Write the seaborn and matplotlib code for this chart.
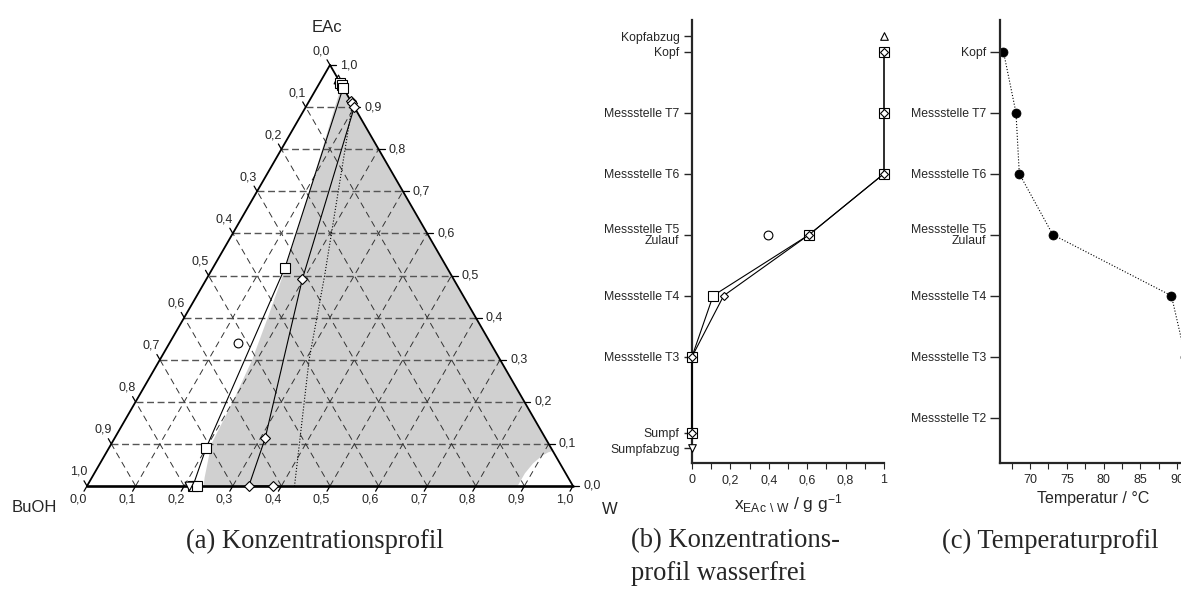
import numpy as np
import pandas as pd
import matplotlib
matplotlib.use("Agg")
import matplotlib.pyplot as plt
import seaborn as sns

# ---------------- data ----------------
# (a) ternary compositions, mass fractions of W and EAc (BuOH = rest)
sq_w   = [0.042, 0.048, 0.054, 0.148, 0.200, 0.218, 0.226]
sq_eac = [0.958, 0.952, 0.946, 0.519, 0.090, 0.000, 0.000]
di_w   = [0.085, 0.090, 0.100, 0.1975, 0.310, 0.333, 0.383]
di_eac = [0.915, 0.910, 0.900, 0.491, 0.113, 0.000, 0.000]
feed_w, feed_eac = [0.141], [0.339]
head_w, head_eac = [0.034], [0.966]
bott_w, bott_eac = [0.210], [0.000]
dot_w   = [0.095, 0.239, 0.307, 0.427]
dot_eac = [0.900, 0.500, 0.300, 0.000]
gap_w   = [0.055, 0.050, 0.060, 0.084, 0.107, 0.131, 0.153, 0.172, 0.190,
           0.200, 0.206, 0.232, 0.240, 0.886, 0.886, 0.891, 0.900, 0.909, 0.917]
gap_eac = [0.945, 0.944, 0.900, 0.800, 0.700, 0.600, 0.500, 0.400, 0.300,
           0.200, 0.100, 0.020, 0.000, 0.000, 0.030, 0.054, 0.0713, 0.080, 0.083]
tern_ticks = [0.0, 0.1, 0.2, 0.3, 0.4, 0.5, 0.6, 0.7, 0.8, 0.9, 1.0]

# (b) water-free profile
pos_b = [7, 6, 5, 4, 3, 2, 0.75]
sq_b  = [1.0, 1.0, 1.0, 0.61, 0.11, 0.0, 0.0]
di_b  = [1.0, 1.0, 1.0, 0.61, 0.165, 0.0, 0.0]
feed_b, feed_pos = [0.395], [4]
head_b, head_pos = [1.0], [7.25]
bott_b, bott_pos = [0.0], [0.5]
ylab_pos_b = [7.25, 7, 6, 5, 4, 3, 2, 0.75, 0.5]
ylab_b = ["Kopfabzug", "Kopf", "Messstelle T7", "Messstelle T6",
          "Messstelle T5\nZulauf", "Messstelle T4", "Messstelle T3",
          "Sumpf", "Sumpfabzug"]
xt_b = [0.0, 0.1, 0.2, 0.3, 0.4, 0.5, 0.6, 0.7, 0.8, 0.9, 1.0]
xtl_b = ["0", "", "0,2", "", "0,4", "", "0,6", "", "0,8", "", "1"]

# (c) temperature profile
pos_c  = [7, 6, 5, 4, 3, 2]
temp_c = [66.4, 68.1, 68.55, 73.1, 89.2, 91.1]
ylab_pos_c = [7, 6, 5, 4, 3, 2, 1]
ylab_c = ["Kopf", "Messstelle T7", "Messstelle T6", "Messstelle T5\nZulauf",
          "Messstelle T4", "Messstelle T3", "Messstelle T2"]
xt_c = [67.5, 70, 72.5, 75, 77.5, 80, 82.5, 85, 87.5, 90]
xtl_c = ["", "70", "", "75", "", "80", "", "85", "", "90"]

# ---------------- style ----------------
sns.set_style("ticks")
plt.rcParams["font.family"] = ["Liberation Sans", "DejaVu Sans"]
plt.rcParams["mathtext.fontset"] = "custom"
plt.rcParams["mathtext.rm"] = "Liberation Sans"
plt.rcParams["mathtext.default"] = "regular"

W, H = 1181, 590
fig = plt.figure(figsize=(W / 100, H / 100), dpi=100)

# ---------------- (a) ternary ----------------
ax = fig.add_axes([87 / W, (H - 486) / H, 486 / W, 421 / H])
ax.set_xlim(0, 1)
ax.set_ylim(0, 1)
ax.axis("off")
PX, PY = 1 / 486, 1 / 421


def tern(w, e):
    w = np.asarray(w, float)
    e = np.asarray(e, float)
    return w + e / 2, e


def lab(v):
    return f"{v:.1f}".replace(".", ",")


gx, gy = tern(gap_w, gap_eac)
ax.fill(gx, gy, color="#d0d0d0", lw=0, zorder=0)

for v in tern_ticks[1:-1]:
    # constant EAc (horizontal)
    x0, y0 = tern(0, v)
    x1, y1 = tern(1 - v, v)
    ax.plot([x0, x1], [y0, y1], color="#555555", lw=1.0,
            ls=(0, (5, 2.6)), zorder=1)
    # constant W
    x0, y0 = tern(v, 0)
    x1, y1 = tern(v, 1 - v)
    ax.plot([x0, x1], [y0, y1], color="#333333", lw=0.7,
            ls=(0, (6.5, 4.5)), zorder=1)
    # constant BuOH
    x0, y0 = tern(1 - v, 0)
    x1, y1 = tern(0, 1 - v)
    ax.plot([x0, x1], [y0, y1], color="#333333", lw=0.7,
            ls=(0, (6.5, 4.5)), zorder=1)

# triangle edges
ax.plot([0.5, 0], [1, 0], color="black", lw=1.3, zorder=3, clip_on=False)
ax.plot([0.5, 1], [1, 0], color="black", lw=1.3, zorder=3, clip_on=False)
ax.plot([0, 1], [0, 0], color="black", lw=1.9, zorder=3, clip_on=False)

tl = 6
for v in tern_ticks:
    # bottom axis: W
    x, y = tern(v, 0)
    ax.plot([x, x - 3 * PX], [y, y - 5.2 * PY], color="black", lw=0.9,
            clip_on=False, zorder=3)
    ax.text(x - 8.5 * PX, y - 14 * PY, lab(v), ha="center", va="center",
            fontsize=9)
    # right axis: EAc
    x, y = tern(1 - v, v)
    ax.plot([x, x + tl * PX], [y, y], color="black", lw=0.9,
            clip_on=False, zorder=3)
    ax.text(x + 10 * PX, y, lab(v), ha="left", va="center", fontsize=9)
    # left axis: BuOH
    x, y = tern(0, 1 - v)
    ax.plot([x, x - 3 * PX], [y, y + 5.2 * PY], color="black", lw=0.9,
            clip_on=False, zorder=3)
    ax.text(x - 8.5 * PX, y + 14 * PY, lab(v), ha="center", va="center",
            fontsize=9)

ax.text((327 - 87) * PX, (486 - 27) * PY, "EAc", ha="center", va="center",
        fontsize=12)
ax.text((34.5 - 87) * PX, (486 - 508) * PY, "BuOH", ha="center",
        va="center", fontsize=12)
ax.text((610 - 87) * PX, (486 - 510) * PY, "W", ha="center", va="center",
        fontsize=12)

dx, dy = tern(dot_w, dot_eac)
sns.lineplot(x=dx, y=dy, sort=False, estimator=None, ax=ax, color="black",
             lw=0.8, linestyle=":", zorder=4)
sx, sy = tern(sq_w, sq_eac)
sns.lineplot(x=sx, y=sy, sort=False, estimator=None, ax=ax, color="black",
             lw=0.8, marker="s", markersize=7, markerfacecolor="white",
             markeredgecolor="black", markeredgewidth=0.8, zorder=5,
             clip_on=False)
qx, qy = tern(di_w, di_eac)
sns.lineplot(x=qx, y=qy, sort=False, estimator=None, ax=ax, color="black",
             lw=0.8, marker="D", markersize=5, markerfacecolor="white",
             markeredgecolor="black", markeredgewidth=0.8, zorder=5,
             clip_on=False)
fx, fy = tern(feed_w, feed_eac)
sns.scatterplot(x=fx, y=fy, ax=ax, marker="o", s=40, color="white",
                edgecolor="black", linewidth=0.8, zorder=6, clip_on=False)
hx, hy = tern(head_w, head_eac)
sns.scatterplot(x=hx, y=hy, ax=ax, marker="^", s=40, color="white",
                edgecolor="black", linewidth=0.8, zorder=4, clip_on=False)
bx, by = tern(bott_w, bott_eac)
sns.scatterplot(x=bx, y=by, ax=ax, marker="v", s=40, color="white",
                edgecolor="black", linewidth=0.8, zorder=6, clip_on=False)
ax.set_xlim(0, 1)
ax.set_ylim(0, 1)
ax.set_xlabel("")
ax.set_ylabel("")

# ---------------- (b) water-free profile ----------------
bot_px, top_px = 463.3, 20
y_lo = 1 - (bot_px - 417.7) / 61
y_hi = 1 + (417.7 - top_px) / 61
axb = fig.add_axes([692 / W, (H - bot_px) / H, 192 / W, (bot_px - top_px) / H])
sns.lineplot(x=sq_b, y=pos_b, sort=False, estimator=None, ax=axb,
             color="black", lw=0.8, marker="s", markersize=6.5,
             markerfacecolor="white", markeredgecolor="black",
             markeredgewidth=0.8, clip_on=False, zorder=4)
sns.lineplot(x=di_b, y=pos_b, sort=False, estimator=None, ax=axb,
             color="black", lw=0.8, marker="D", markersize=4.4,
             markerfacecolor="white", markeredgecolor="black",
             markeredgewidth=0.8, clip_on=False, zorder=5)
sns.scatterplot(x=feed_b, y=feed_pos, ax=axb, marker="o", s=40,
                color="white", edgecolor="black", linewidth=0.8,
                clip_on=False, zorder=6)
sns.scatterplot(x=head_b, y=head_pos, ax=axb, marker="^", s=30,
                color="white", edgecolor="black", linewidth=0.8,
                clip_on=False, zorder=6)
sns.scatterplot(x=bott_b, y=bott_pos, ax=axb, marker="v", s=30,
                color="white", edgecolor="black", linewidth=0.8,
                clip_on=False, zorder=6)
axb.set_xlim(0, 1)
axb.set_ylim(y_lo, y_hi)
axb.set_xticks(xt_b)
axb.set_xticklabels(xtl_b)
axb.set_yticks(ylab_pos_b)
axb.set_yticklabels(ylab_b, linespacing=0.9)
axb.tick_params(axis="y", length=6, width=1, labelsize=8.8, pad=3)
axb.tick_params(axis="x", length=4, width=0.8, labelsize=9, pad=4)
axb.set_xlabel(r"x$_{\mathregular{EAc\ \backslash\ W}}$ / g g$^{-1}$",
               fontsize=12.5, labelpad=4)
axb.set_ylabel("")
sns.despine(ax=axb)
for s in ("left", "bottom"):
    axb.spines[s].set_linewidth(1.6)

# ---------------- (c) temperature profile ----------------
axc = fig.add_axes([1000 / W, (H - bot_px) / H, 187 / W, (bot_px - top_px) / H])
sns.lineplot(x=temp_c, y=pos_c, sort=False, estimator=None, ax=axc,
             color="black", lw=0.8, linestyle=":", marker="o",
             markersize=6.5, markerfacecolor="black",
             markeredgecolor="black", markeredgewidth=0.5)
axc.set_xlim(65.93, 65.93 + 187 / 7.367)
axc.set_ylim(y_lo, y_hi)
axc.set_xticks(xt_c)
axc.set_xticklabels(xtl_c)
axc.tick_params(axis="y", length=7, width=1, labelsize=8.8, pad=3)
axc.set_yticks(ylab_pos_c)
axc.set_yticklabels(ylab_c, linespacing=0.9)
axc.tick_params(axis="x", length=4, width=0.8, labelsize=9, pad=4)
axc.set_xlabel("Temperatur / °C", fontsize=11.5, labelpad=3)
axc.set_ylabel("")
sns.despine(ax=axc)
for s in ("left", "bottom"):
    axc.spines[s].set_linewidth(1.6)

# ---------------- captions ----------------
cap = dict(family=["Liberation Serif", "DejaVu Serif"], fontsize=19.2,
           va="center")
fig.text(314.5 / W, 1 - 541 / H, "(a) Konzentrationsprofil", ha="center",
         **cap)
fig.text(631 / W, 1 - 541 / H, "(b) Konzentrations-", ha="left", **cap)
fig.text(631 / W, 1 - 573 / H, "profil wasserfrei", ha="left", **cap)
fig.text(941.5 / W, 1 - 541 / H, "(c) Temperaturprofil", ha="left", **cap)

fig.savefig("out.png", dpi=100)
